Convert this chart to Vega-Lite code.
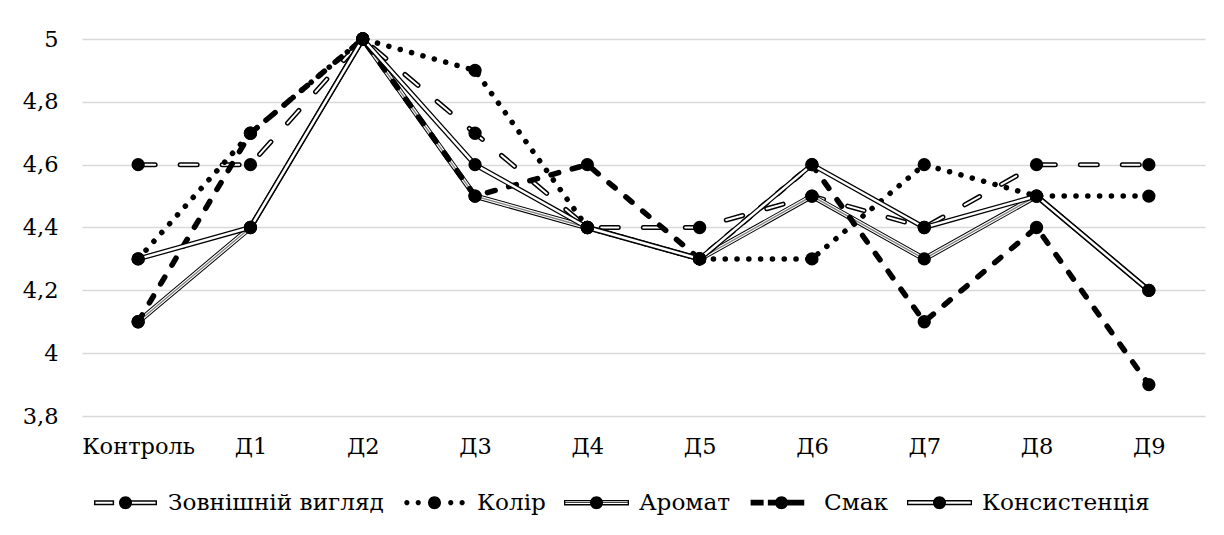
{
  "$schema": "https://vega.github.io/schema/vega-lite/v6.json",
  "width": 1123,
  "height": 377,
  "autosize": {"type": "none"},
  "padding": {"left": 82, "top": 39, "right": 19, "bottom": 119},
  "background": "white",
  "config": {
    "view": {"stroke": null},
    "font": "DejaVu Serif",
    "axis": {"labelFont": "DejaVu Serif", "labelColor": "black", "labelFontSize": 22.5},
    "legend": {"labelFont": "DejaVu Serif"}
  },
  "data": {
    "values": [
      {"cat": "Контроль", "s": "Зовнішній вигляд", "value": 4.6},
      {"cat": "Д1", "s": "Зовнішній вигляд", "value": 4.6},
      {"cat": "Д2", "s": "Зовнішній вигляд", "value": 5},
      {"cat": "Д3", "s": "Зовнішній вигляд", "value": 4.7},
      {"cat": "Д4", "s": "Зовнішній вигляд", "value": 4.4},
      {"cat": "Д5", "s": "Зовнішній вигляд", "value": 4.4},
      {"cat": "Д6", "s": "Зовнішній вигляд", "value": 4.5},
      {"cat": "Д7", "s": "Зовнішній вигляд", "value": 4.4},
      {"cat": "Д8", "s": "Зовнішній вигляд", "value": 4.6},
      {"cat": "Д9", "s": "Зовнішній вигляд", "value": 4.6},
      {"cat": "Контроль", "s": "Колір", "value": 4.3},
      {"cat": "Д1", "s": "Колір", "value": 4.7},
      {"cat": "Д2", "s": "Колір", "value": 5},
      {"cat": "Д3", "s": "Колір", "value": 4.9},
      {"cat": "Д4", "s": "Колір", "value": 4.4},
      {"cat": "Д5", "s": "Колір", "value": 4.3},
      {"cat": "Д6", "s": "Колір", "value": 4.3},
      {"cat": "Д7", "s": "Колір", "value": 4.6},
      {"cat": "Д8", "s": "Колір", "value": 4.5},
      {"cat": "Д9", "s": "Колір", "value": 4.5},
      {"cat": "Контроль", "s": "Аромат", "value": 4.1},
      {"cat": "Д1", "s": "Аромат", "value": 4.4},
      {"cat": "Д2", "s": "Аромат", "value": 5},
      {"cat": "Д3", "s": "Аромат", "value": 4.5},
      {"cat": "Д4", "s": "Аромат", "value": 4.4},
      {"cat": "Д5", "s": "Аромат", "value": 4.3},
      {"cat": "Д6", "s": "Аромат", "value": 4.5},
      {"cat": "Д7", "s": "Аромат", "value": 4.3},
      {"cat": "Д8", "s": "Аромат", "value": 4.5},
      {"cat": "Д9", "s": "Аромат", "value": 4.2},
      {"cat": "Контроль", "s": "Смак", "value": 4.1},
      {"cat": "Д1", "s": "Смак", "value": 4.7},
      {"cat": "Д2", "s": "Смак", "value": 5},
      {"cat": "Д3", "s": "Смак", "value": 4.5},
      {"cat": "Д4", "s": "Смак", "value": 4.6},
      {"cat": "Д5", "s": "Смак", "value": 4.3},
      {"cat": "Д6", "s": "Смак", "value": 4.6},
      {"cat": "Д7", "s": "Смак", "value": 4.1},
      {"cat": "Д8", "s": "Смак", "value": 4.4},
      {"cat": "Д9", "s": "Смак", "value": 3.9},
      {"cat": "Контроль", "s": "Консистенція", "value": 4.3},
      {"cat": "Д1", "s": "Консистенція", "value": 4.4},
      {"cat": "Д2", "s": "Консистенція", "value": 5},
      {"cat": "Д3", "s": "Консистенція", "value": 4.6},
      {"cat": "Д4", "s": "Консистенція", "value": 4.4},
      {"cat": "Д5", "s": "Консистенція", "value": 4.3},
      {"cat": "Д6", "s": "Консистенція", "value": 4.6},
      {"cat": "Д7", "s": "Консистенція", "value": 4.4},
      {"cat": "Д8", "s": "Консистенція", "value": 4.5},
      {"cat": "Д9", "s": "Консистенція", "value": 4.2}
    ]
  },
  "encoding": {
    "x": {
      "field": "cat", "type": "nominal",
      "sort": ["Контроль", "Д1", "Д2", "Д3", "Д4", "Д5", "Д6", "Д7", "Д8", "Д9"],
      "axis": {"title": null, "labelAngle": 0, "labelPadding": 19, "ticks": false, "tickSize": 0, "domain": false, "grid": false}
    },
    "y": {
      "field": "value", "type": "quantitative",
      "scale": {"domain": [3.8, 5], "zero": false, "nice": false},
      "axis": {
        "title": null, "values": [3.8, 4, 4.2, 4.4, 4.6, 4.8, 5],
        "labelExpr": "replace(format(datum.value, '.1~f'), '.', ',')",
        "ticks": false, "tickSize": 0, "domain": false,
        "gridColor": "#d9d9d9", "gridWidth": 1.3, "labelPadding": 24
      }
    }
  },
  "layer": [
    {"transform": [{"filter": "datum.s === 'Зовнішній вигляд'"}], "mark": {"type": "line", "stroke": "black", "strokeWidth": 5, "strokeDash": [17, 25], "strokeCap": "round"}},
    {"transform": [{"filter": "datum.s === 'Зовнішній вигляд'"}], "mark": {"type": "line", "stroke": "white", "strokeWidth": 2, "strokeDash": [17, 25], "strokeCap": "round"}},
    {"transform": [{"filter": "datum.s === 'Колір'"}], "mark": {"type": "line", "stroke": "black", "strokeWidth": 5.5, "strokeDash": [0.1, 11.7], "strokeCap": "round"}},
    {"transform": [{"filter": "datum.s === 'Аромат'"}], "mark": {"type": "line", "stroke": "black", "strokeWidth": 5.5}},
    {"transform": [{"filter": "datum.s === 'Аромат'"}], "mark": {"type": "line", "stroke": "white", "strokeWidth": 3.5}},
    {"transform": [{"filter": "datum.s === 'Аромат'"}], "mark": {"type": "line", "stroke": "#808080", "strokeWidth": 1.3}},
    {"transform": [{"filter": "datum.s === 'Смак'"}], "mark": {"type": "line", "stroke": "black", "strokeWidth": 5.5, "strokeDash": [8, 14], "strokeCap": "round"}},
    {"transform": [{"filter": "datum.s === 'Консистенція'"}], "mark": {"type": "line", "stroke": "black", "strokeWidth": 5}},
    {"transform": [{"filter": "datum.s === 'Консистенція'"}], "mark": {"type": "line", "stroke": "white", "strokeWidth": 2.5}},
    {"mark": {"type": "circle", "size": 177, "color": "black", "opacity": 1}},
    {
      "mark": {"type": "point", "filled": true, "opacity": 0, "color": "black"},
      "encoding": {
        "shape": {
          "field": "s", "type": "nominal",
          "scale": {
            "domain": ["Зовнішній вигляд", "Колір", "Аромат", "Смак", "Консистенція"],
            "range": [
              "M-0.97,-0.077H-0.35V0.077H-0.97Z M-0.924,-0.031V0.031H-0.396V-0.031Z M0.15,-0.077H0.97V0.077H0.15Z M0.196,-0.031V0.031H0.924V-0.031Z M-0.2,0A0.2,0.2,0,1,1,0.2,0A0.2,0.2,0,1,1,-0.2,0Z",
              "M-0.93,0A0.08,0.08,0,1,1,-0.77,0A0.08,0.08,0,1,1,-0.93,0Z M-0.58,0A0.08,0.08,0,1,1,-0.42,0A0.08,0.08,0,1,1,-0.58,0Z M0.42,0A0.08,0.08,0,1,1,0.58,0A0.08,0.08,0,1,1,0.42,0Z M0.77,0A0.08,0.08,0,1,1,0.93,0A0.08,0.08,0,1,1,0.77,0Z M-0.2,0A0.2,0.2,0,1,1,0.2,0A0.2,0.2,0,1,1,-0.2,0Z",
              "M-1,-0.085H1V0.085H-1Z M-0.96,-0.045V0.045H0.96V-0.045Z M-0.96,-0.012H0.96V0.012H-0.96Z M-0.2,0A0.2,0.2,0,1,1,0.2,0A0.2,0.2,0,1,1,-0.2,0Z",
              "M-0.95,-0.09H-0.55V0.09H-0.95Z M-0.42,-0.09H-0.15V0.09H-0.42Z M0.15,-0.09H0.7V0.09H0.15Z M-0.2,0A0.2,0.2,0,1,1,0.2,0A0.2,0.2,0,1,1,-0.2,0Z",
              "M-1,-0.08H1V0.08H-1Z M-0.96,-0.035V0.035H0.96V-0.035Z M-0.2,0A0.2,0.2,0,1,1,0.2,0A0.2,0.2,0,1,1,-0.2,0Z"
            ]
          },
          "legend": {
            "title": null, "orient": "none", "legendX": 11, "legendY": 431, "direction": "horizontal",
            "symbolSize": 4225, "symbolFillColor": "black", "symbolStrokeColor": "black", "symbolStrokeWidth": 0,
            "symbolOpacity": 1, "labelFontSize": 23.2, "labelColor": "black",
            "labelOffset": 10, "columnPadding": 18, "padding": 0, "labelLimit": 400
          }
        }
      }
    }
  ]
}
